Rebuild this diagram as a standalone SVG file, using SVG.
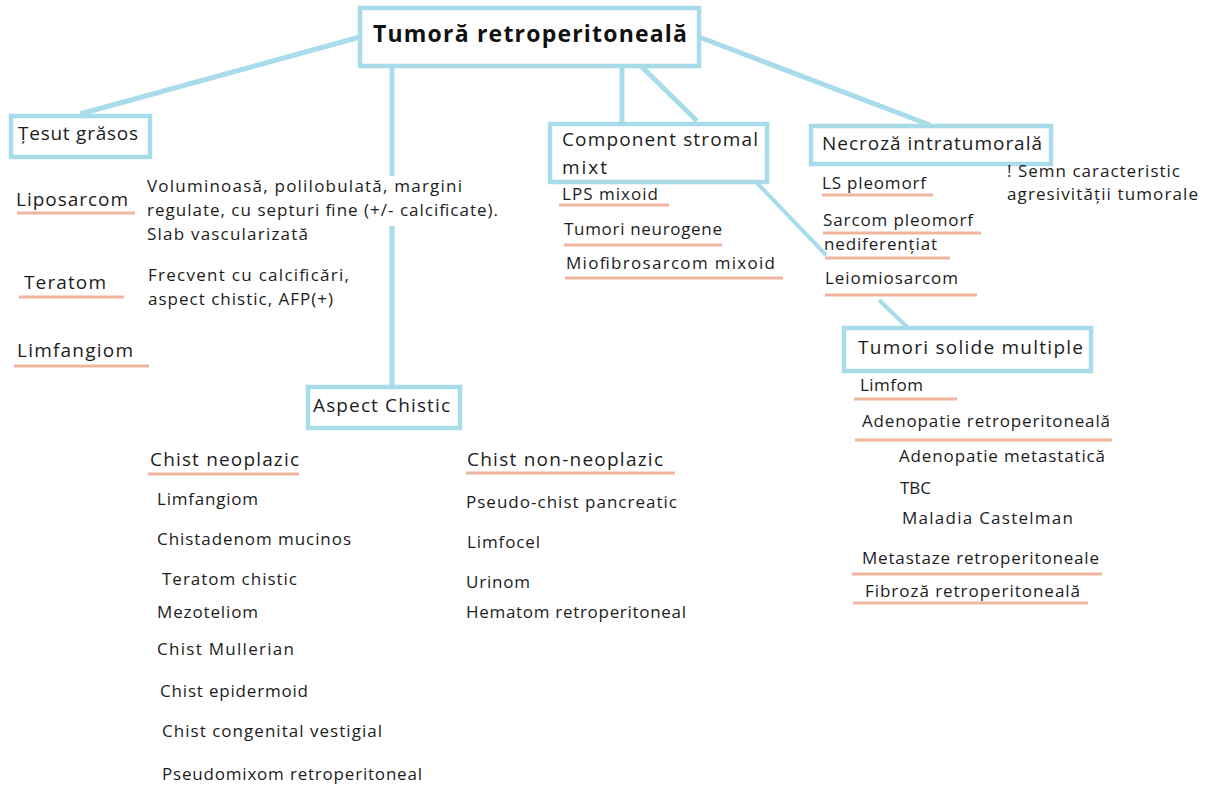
<svg xmlns="http://www.w3.org/2000/svg" width="1217" height="786" viewBox="0 0 1217 786">
<style>
  .box{fill:#fff;stroke:#a8dcea;stroke-width:4.5}
  .ln{stroke:#a8dcea;stroke-width:5;fill:none}
  .ul{stroke:#f0b59e;stroke-width:3}
  text{font-family:"Open Sans","Noto Sans","Liberation Sans",sans-serif;fill:#1c1c1c;font-size:17px}
  .h{font-size:19px}
  .t{font-size:23px;font-weight:bold;fill:#111}
</style>
<rect width="1217" height="786" fill="#fff"/>
<g id="connectors">
  <line class="ln" x1="360" y1="37" x2="80" y2="114"/>
  <line class="ln" x1="392" y1="66" x2="392" y2="176"/>
  <line class="ln" x1="392" y1="226" x2="392" y2="386"/>
  <line class="ln" x1="622" y1="66" x2="622" y2="123"/>
  <line class="ln" x1="641" y1="66" x2="697" y2="121"/>
  <line class="ln" x1="699" y1="37" x2="930" y2="125"/>
  <line class="ln" x1="757" y1="183" x2="826" y2="255" style="stroke-width:4"/>
  <line class="ln" x1="879" y1="300" x2="907" y2="327" style="stroke-width:4"/>
</g>
<g id="root">
  <rect class="box" x="360" y="8" width="339" height="58"/>
  <text class="t" x="373" y="42" textLength="314">Tumoră retroperitoneală</text>
</g>
<g id="tesut">
  <rect class="box" x="11" y="116" width="139" height="41"/>
  <text class="h" x="18" y="140" textLength="120">Țesut grăsos</text>
</g>
<g id="tesut-items">
  <text class="h" x="16" y="206" textLength="112">Liposarcom</text>
  <line class="ul" x1="17" y1="213" x2="135" y2="213"/>
  <text x="147" y="192" textLength="315">Voluminoasă, polilobulată, margini</text>
  <text x="147" y="216" textLength="351">regulate, cu septuri fine (+/- calcificate).</text>
  <text x="147" y="240" textLength="161">Slab vascularizată</text>
  <text class="h" x="24" y="289" textLength="82">Teratom</text>
  <line class="ul" x1="19" y1="297" x2="124" y2="297"/>
  <text x="148" y="281" textLength="201">Frecvent cu calcificări,</text>
  <text x="148" y="305" textLength="185">aspect chistic, AFP(+)</text>
  <text class="h" x="17" y="357" textLength="116">Limfangiom</text>
  <line class="ul" x1="14" y1="366" x2="149" y2="366"/>
</g>
<g id="aspect">
  <rect class="box" x="308" y="387" width="152" height="41"/>
  <text class="h" x="313" y="412" textLength="137">Aspect Chistic</text>
</g>
<g id="chist-neoplazic">
  <text class="h" x="150" y="466" textLength="149">Chist neoplazic</text>
  <line class="ul" x1="148" y1="474" x2="299" y2="474"/>
  <text x="157" y="505" textLength="101">Limfangiom</text>
  <text x="157" y="545" textLength="194">Chistadenom mucinos</text>
  <text x="162" y="585" textLength="135">Teratom chistic</text>
  <text x="157" y="618" textLength="101">Mezoteliom</text>
  <text x="157" y="655" textLength="137">Chist Mullerian</text>
  <text x="160" y="697" textLength="148">Chist epidermoid</text>
  <text x="162" y="737" textLength="220">Chist congenital vestigial</text>
  <text x="162" y="780" textLength="260">Pseudomixom retroperitoneal</text>
</g>
<g id="chist-non-neoplazic">
  <text class="h" x="467" y="466" textLength="196">Chist non-neoplazic</text>
  <line class="ul" x1="466" y1="473" x2="675" y2="473"/>
  <text x="466" y="508" textLength="211">Pseudo-chist pancreatic</text>
  <text x="467" y="548" textLength="73">Limfocel</text>
  <text x="466" y="588" textLength="64">Urinom</text>
  <text x="466" y="618" textLength="220">Hematom retroperitoneal</text>
</g>
<g id="stromal">
  <rect class="box" x="550" y="124" width="217" height="58"/>
  <text class="h" x="562" y="146" textLength="196">Component stromal</text>
  <text class="h" x="562" y="174" textLength="45">mixt</text>
</g>
<g id="stromal-items">
  <text x="562" y="200" textLength="96">LPS mixoid</text>
  <line class="ul" x1="559" y1="205" x2="669" y2="205"/>
  <text x="564" y="235" textLength="158">Tumori neurogene</text>
  <line class="ul" x1="564" y1="245" x2="722" y2="245"/>
  <text x="566" y="269" textLength="209">Miofibrosarcom mixoid</text>
  <line class="ul" x1="565" y1="278" x2="783" y2="278"/>
</g>
<g id="necroza">
  <rect class="box" x="811" y="126" width="240" height="38"/>
  <text class="h" x="822" y="150" textLength="220">Necroză intratumorală</text>
</g>
<g id="necroza-items">
  <text x="1007" y="177" textLength="173">! Semn caracteristic</text>
  <text x="1007" y="200" textLength="191">agresivității tumorale</text>
  <text x="822" y="189" textLength="104">LS pleomorf</text>
  <line class="ul" x1="822" y1="195" x2="933" y2="195"/>
  <text x="823" y="226" textLength="150">Sarcom pleomorf</text>
  <line class="ul" x1="823" y1="233" x2="981" y2="233"/>
  <text x="824" y="250" textLength="113">nediferențiat</text>
  <line class="ul" x1="825" y1="258" x2="950" y2="258"/>
  <text x="825" y="284" textLength="133">Leiomiosarcom</text>
  <line class="ul" x1="825" y1="295" x2="977" y2="295"/>
</g>
<g id="solide">
  <rect class="box" x="844" y="328" width="247" height="43"/>
  <text class="h" x="858" y="354" textLength="225">Tumori solide multiple</text>
</g>
<g id="solide-items">
  <text x="860" y="391" textLength="63">Limfom</text>
  <line class="ul" x1="854" y1="399" x2="957" y2="399"/>
  <text x="862" y="427" textLength="248">Adenopatie retroperitoneală</text>
  <line class="ul" x1="855" y1="440" x2="1112" y2="440"/>
  <text x="899" y="462" textLength="206">Adenopatie metastatică</text>
  <text x="900" y="494" textLength="31">TBC</text>
  <text x="902" y="524" textLength="171">Maladia Castelman</text>
  <text x="862" y="564" textLength="237">Metastaze retroperitoneale</text>
  <line class="ul" x1="852" y1="574" x2="1102" y2="574"/>
  <text x="865" y="597" textLength="215">Fibroză retroperitoneală</text>
  <line class="ul" x1="853" y1="603" x2="1088" y2="603"/>
</g>
</svg>
